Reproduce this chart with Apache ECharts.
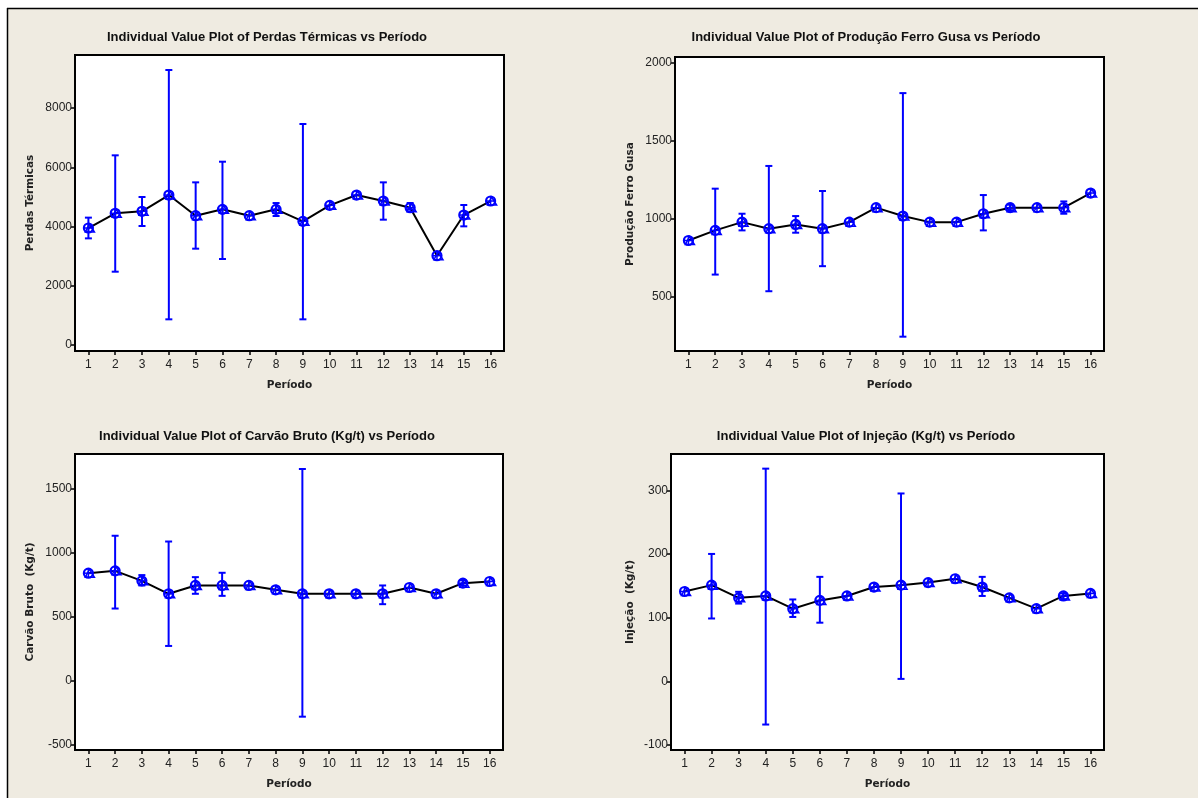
<!DOCTYPE html>
<html><head><meta charset="utf-8">
<script src="https://cdn.jsdelivr.net/npm/echarts@6/dist/echarts.min.js"></script>
<style>html,body{margin:0;padding:0;background:#fff}#c{width:1198px;height:798px}</style>
</head><body><div id="c"></div>
<script>
const periods = ['1','2','3','4','5','6','7','8','9','10','11','12','13','14','15','16'];

const perdasMean = [3950,4446,4513,5063,4366,4580,4366,4580,4175,4715,5063,4861,4636,3015,4388,4861];
const perdasLow  = [3600,2475,4017,867,3252,2903,null,4355,867,null,null,4231,4580,null,4006,null];
const perdasHigh = [4300,6403,4996,9283,5491,6188,null,4793,7460,null,null,5491,4793,null,4726,null];

const ferroMean = [860,925,978,936,963,936,978,1071,1017,978,978,1032,1071,1071,1071,1165];
const ferroLow  = [null,641,925,534,910,695,null,null,242,null,null,925,1055,null,1032,null];
const ferroHigh = [null,1193,1032,1339,1017,1178,null,null,1807,null,null,1152,1090,null,1111,null];

const carvaoMean = [841,859,781,680,745,745,745,711,680,680,680,680,729,680,763,776];
const carvaoLow  = [null,565,745,273,680,664,null,null,-279,null,null,599,null,null,745,null];
const carvaoHigh = [null,1133,826,1088,810,844,null,null,1654,null,null,745,null,null,785,null];

const injecaoMean = [141,151,131,134,114,127,134,148,151,155,161,148,131,114,134,138];
const injecaoLow  = [null,98.6,122,-68,101,92,null,null,3.7,null,null,134,null,null,129,null];
const injecaoHigh = [null,200,140.5,334,128.5,164,null,null,295,null,null,164,null,null,138,null];

const perdasTicks = [0,2000,4000,6000,8000];
const ferroTicks = [500,1000,1500,2000];
const carvaoTicks = [-500,0,500,1000,1500];
const injecaoTicks = [-100,0,100,200,300];

const titles = [
  'Individual Value Plot of Perdas Térmicas vs Período',
  'Individual Value Plot of Produção Ferro Gusa vs Período',
  'Individual Value Plot of Carvão Bruto (Kg/t) vs Período',
  'Individual Value Plot of Injeção (Kg/t) vs Período'
];
const yNames = ['Perdas Térmicas','Produção Ferro Gusa','Carvão Bruto  (Kg/t)','Injeção  (Kg/t)'];
const xName = 'Período';

const panels = [
  {mean:perdasMean, low:perdasLow, high:perdasHigh, ticks:perdasTicks, min:-202, max:9790,
   grid:{left:75, top:55, width:429, height:296}, title:[267,37], gap:39},
  {mean:ferroMean, low:ferroLow, high:ferroHigh, ticks:ferroTicks, min:150, max:2039,
   grid:{left:675, top:57, width:429, height:294}, title:[866,37], gap:39},
  {mean:carvaoMean, low:carvaoLow, high:carvaoHigh, ticks:carvaoTicks, min:-539, max:1771,
   grid:{left:75, top:454, width:428, height:296}, title:[267,436], gap:39},
  {mean:injecaoMean, low:injecaoLow, high:injecaoHigh, ticks:injecaoTicks, min:-108, max:357,
   grid:{left:671, top:454, width:433, height:296}, title:[866,436], gap:35}
];

const BLUE = '#0000ff';
const tickFont = 'Liberation Sans Narrow, Arial Narrow, Liberation Sans, sans-serif';
const nameFont = 'DejaVu Sans, Verdana, sans-serif';

const grids = [], xAxes = [], yAxes = [], series = [], graphics = [];

graphics.push({type:'rect', shape:{x:0,y:0,width:1198,height:8}, style:{fill:'#fff'}, silent:true});
graphics.push({type:'rect', shape:{x:0,y:0,width:7,height:798}, style:{fill:'#fff'}, silent:true});
graphics.push({type:'line', shape:{x1:7,y1:8.5,x2:1198,y2:8.5}, style:{stroke:'#000',lineWidth:1.5}, silent:true});
graphics.push({type:'line', shape:{x1:7.5,y1:8,x2:7.5,y2:798}, style:{stroke:'#000',lineWidth:1.5}, silent:true});

panels.forEach((p, i) => {
  grids.push(Object.assign({show:true, backgroundColor:'#fff', borderColor:'#000', borderWidth:2, containLabel:false}, p.grid));
  xAxes.push({
    type:'category', gridIndex:i, data:periods, boundaryGap:true,
    name:xName, nameLocation:'middle', nameGap:29,
    nameTextStyle:{fontFamily:nameFont, fontWeight:'bold', fontSize:10.5, color:'#222'},
    axisLine:{show:true, onZero:false, lineStyle:{color:'#000', width:2}},
    axisTick:{show:true, alignWithLabel:true, length:4, lineStyle:{color:'#000', width:1.5}},
    axisLabel:{fontFamily:tickFont, fontSize:12, color:'#222', margin:8, interval:0},
    splitLine:{show:false}
  });
  yAxes.push({
    type:'value', gridIndex:i, min:p.min, max:p.max,
    name:yNames[i], nameLocation:'middle', nameGap:p.gap, nameRotate:90,
    nameTextStyle:{fontFamily:nameFont, fontWeight:'bold', fontSize:10.5, color:'#222'},
    axisLine:{show:true, onZero:false, lineStyle:{color:'#000', width:2}},
    axisTick:{show:true, length:4, customValues:p.ticks, lineStyle:{color:'#000', width:1.5}},
    axisLabel:{fontFamily:tickFont, fontSize:12, color:'#222', margin:3, customValues:p.ticks,
      formatter:function(v){ return String(v); }},
    splitLine:{show:false}
  });
  series.push({
    type:'line', xAxisIndex:i, yAxisIndex:i, data:p.mean, symbol:'none',
    lineStyle:{color:'#000', width:2}, z:2, silent:true
  });
  const data = p.mean.map((m, k) => [k, m, p.low[k] == null ? m : p.low[k], p.high[k] == null ? m : p.high[k]]);
  series.push({
    type:'custom', xAxisIndex:i, yAxisIndex:i, data:data, z:3, silent:true,
    renderItem:function(params, api){
      const x = api.value(0), m = api.value(1), lo = api.value(2), hi = api.value(3);
      const c = api.coord([x, m]);
      const children = [];
      if (hi > lo) {
        const a = api.coord([x, hi]), b = api.coord([x, lo]);
        children.push({type:'line', shape:{x1:a[0],y1:a[1],x2:b[0],y2:b[1]}, style:{stroke:BLUE, lineWidth:2}});
        children.push({type:'line', shape:{x1:a[0]-3.5,y1:a[1],x2:a[0]+3.5,y2:a[1]}, style:{stroke:BLUE, lineWidth:2}});
        children.push({type:'line', shape:{x1:b[0]-3.5,y1:b[1],x2:b[0]+3.5,y2:b[1]}, style:{stroke:BLUE, lineWidth:2}});
      }
      children.push({type:'polygon', shape:{points:[[c[0]+1,c[1]-4],[c[0]+6,c[1]+4],[c[0]-3,c[1]+4]]}, style:{fill:'none', stroke:BLUE, lineWidth:1.5}});
      children.push({type:'circle', shape:{cx:c[0], cy:c[1], r:4.5}, style:{fill:'none', stroke:BLUE, lineWidth:2.2}});
      children.push({type:'line', shape:{x1:c[0]-4.5,y1:c[1],x2:c[0]+4.5,y2:c[1]}, style:{stroke:BLUE, lineWidth:1.5}});
      children.push({type:'line', shape:{x1:c[0],y1:c[1]-4.5,x2:c[0],y2:c[1]+4.5}, style:{stroke:BLUE, lineWidth:1.5}});
      return {type:'group', children:children};
    }
  });
  graphics.push({type:'text', x:p.title[0], y:p.title[1], silent:true,
    style:{text:titles[i], fontFamily:'Liberation Sans, Arial, sans-serif', fontWeight:'bold', fontSize:13, fill:'#111', align:'center', verticalAlign:'middle'}});
});

const chart = echarts.init(document.getElementById('c'), null, {renderer:'canvas'});
chart.setOption({
  backgroundColor:'#efebe1',
  animation:false,
  grid:grids, xAxis:xAxes, yAxis:yAxes, series:series, graphic:graphics
});
</script></body></html>
